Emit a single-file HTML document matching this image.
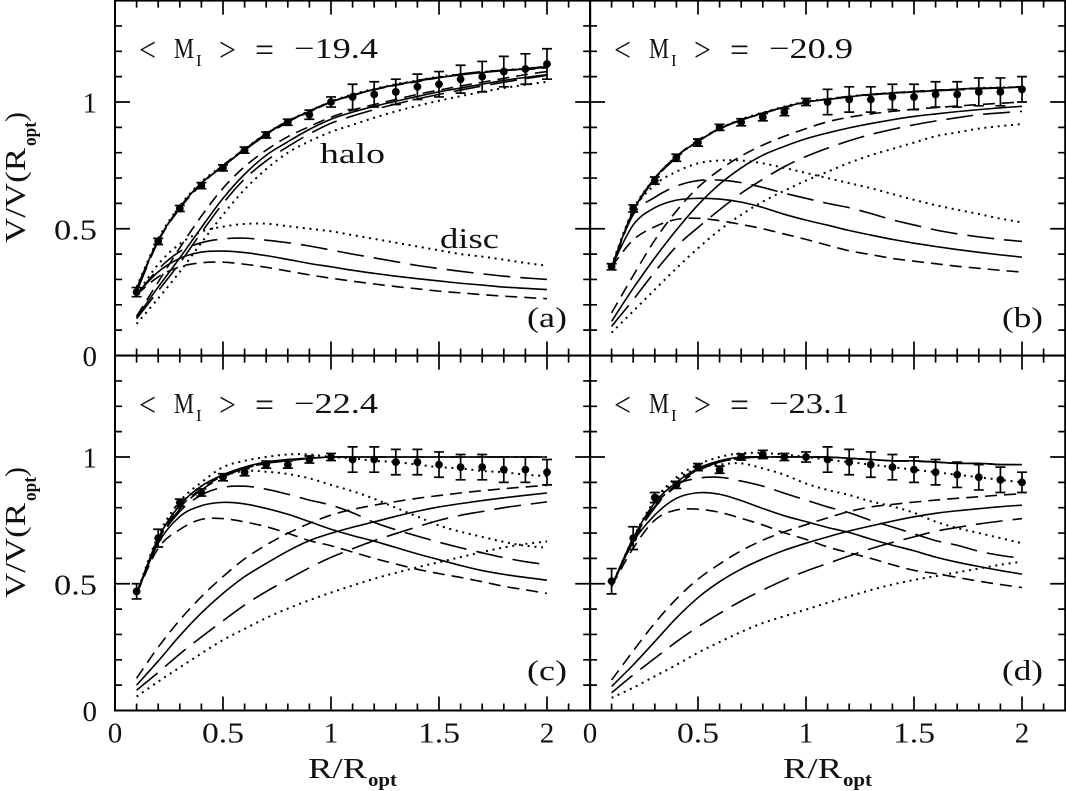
<!DOCTYPE html>
<html lang="en">
<head>
<meta charset="utf-8">
<title>Rotation curves</title>
<style>
html,body{margin:0;padding:0;background:#fff;width:1066px;height:791px;overflow:hidden}
svg{display:block}
text{font-family:"Liberation Serif",serif;fill:#111}
.t{font-size:29px}
.op{font-size:34px}
.s{font-size:19px;font-weight:bold}
.sub{font-size:17px}
</style>
</head>
<body>
<svg id="chart" width="1066" height="791" viewBox="0 0 1066 791" xmlns="http://www.w3.org/2000/svg">
<rect width="1066" height="791" fill="#fff"/>
<g id="plots"></g>

<g>
<text class="op" x="139" y="61" textLength="17" lengthAdjust="spacingAndGlyphs">&lt;</text>
<text class="t" x="174" y="58" textLength="20" lengthAdjust="spacingAndGlyphs">M</text>
<text class="sub" x="196" y="66">I</text>
<text class="op" x="219" y="61" textLength="17" lengthAdjust="spacingAndGlyphs">&gt;</text>
<text class="op" x="255" y="61" textLength="19" lengthAdjust="spacingAndGlyphs">=</text>
<text class="t" x="294" y="58" textLength="84" lengthAdjust="spacingAndGlyphs">−19.4</text>
<text class="t" x="320" y="163" textLength="65" lengthAdjust="spacingAndGlyphs">halo</text>
<text class="t" x="440" y="248" textLength="59" lengthAdjust="spacingAndGlyphs">disc</text>
<text class="t" x="527" y="327" textLength="40" lengthAdjust="spacingAndGlyphs">(a)</text>
</g>

<g>
<text class="op" x="614" y="61" textLength="17" lengthAdjust="spacingAndGlyphs">&lt;</text>
<text class="t" x="649" y="58" textLength="20" lengthAdjust="spacingAndGlyphs">M</text>
<text class="sub" x="671" y="66">I</text>
<text class="op" x="694" y="61" textLength="17" lengthAdjust="spacingAndGlyphs">&gt;</text>
<text class="op" x="730" y="61" textLength="19" lengthAdjust="spacingAndGlyphs">=</text>
<text class="t" x="769" y="58" textLength="84" lengthAdjust="spacingAndGlyphs">−20.9</text>
<text class="t" x="1002" y="327" textLength="41" lengthAdjust="spacingAndGlyphs">(b)</text>
</g>

<g>
<text class="op" x="139" y="416" textLength="17" lengthAdjust="spacingAndGlyphs">&lt;</text>
<text class="t" x="174" y="413" textLength="20" lengthAdjust="spacingAndGlyphs">M</text>
<text class="sub" x="196" y="421">I</text>
<text class="op" x="219" y="416" textLength="17" lengthAdjust="spacingAndGlyphs">&gt;</text>
<text class="op" x="255" y="416" textLength="19" lengthAdjust="spacingAndGlyphs">=</text>
<text class="t" x="294" y="413" textLength="84" lengthAdjust="spacingAndGlyphs">−22.4</text>
<text class="t" x="527" y="680" textLength="40" lengthAdjust="spacingAndGlyphs">(c)</text>
</g>

<g>
<text class="op" x="614" y="416" textLength="17" lengthAdjust="spacingAndGlyphs">&lt;</text>
<text class="t" x="649" y="413" textLength="20" lengthAdjust="spacingAndGlyphs">M</text>
<text class="sub" x="671" y="421">I</text>
<text class="op" x="694" y="416" textLength="17" lengthAdjust="spacingAndGlyphs">&gt;</text>
<text class="op" x="730" y="416" textLength="19" lengthAdjust="spacingAndGlyphs">=</text>
<text class="t" x="769" y="413" textLength="80" lengthAdjust="spacingAndGlyphs">−23.1</text>
<text class="t" x="1002" y="680" textLength="41" lengthAdjust="spacingAndGlyphs">(d)</text>
</g>

<g>
<text class="t" x="308" y="778" textLength="59" lengthAdjust="spacingAndGlyphs">R/R</text>
<text class="s" x="368" y="786" textLength="29" lengthAdjust="spacingAndGlyphs">opt</text>
</g>
<g>
<text class="t" x="783" y="778" textLength="59" lengthAdjust="spacingAndGlyphs">R/R</text>
<text class="s" x="843" y="786" textLength="29" lengthAdjust="spacingAndGlyphs">opt</text>
</g>
<g>
<text class="t" transform="translate(25 243) rotate(-90)" textLength="95" lengthAdjust="spacingAndGlyphs">V/V(R</text>
<text class="s" transform="translate(36 146) rotate(-90)" textLength="24" lengthAdjust="spacingAndGlyphs">opt</text>
<text class="t" transform="translate(25 122) rotate(-90)" textLength="10" lengthAdjust="spacingAndGlyphs">)</text>
</g>
<g>
<text class="t" transform="translate(25 598) rotate(-90)" textLength="95" lengthAdjust="spacingAndGlyphs">V/V(R</text>
<text class="s" transform="translate(36 501) rotate(-90)" textLength="24" lengthAdjust="spacingAndGlyphs">opt</text>
<text class="t" transform="translate(25 477) rotate(-90)" textLength="10" lengthAdjust="spacingAndGlyphs">)</text>
</g>
</svg>

<script>
const radii=[0.1,0.2,0.3,0.4,0.5,0.6,0.7,0.8,0.9,1.0,1.1,1.2,1.3,1.4,1.5,1.6,1.7,1.8,1.9,2.0];
const xTickValues=[0,0.5,1,1.5,2];
const xTickLabels=["0","0.5","1","1.5","2"];
const yTickValues=[0,0.5,1];
const yTickLabels=["0","0.5","1"];

// panel (a)
const pointsA=[.25,.45,.58,.67,.74,.81,.87,.92,.95,1.0,1.02,1.03,1.04,1.06,1.07,1.09,1.10,1.12,1.13,1.15];
const errorsA=[.018,.012,.012,.012,.012,.012,.012,.012,.018,.02,.05,.05,.05,.05,.05,.055,.06,.06,.06,.06];
const totalSolidA=[.265,.455,.585,.68,.745,.813,.875,.925,.963,1.0,1.026,1.05,1.067,1.083,1.096,1.107,1.116,1.124,1.13,1.137];
const totalShortA=[.26,.45,.58,.675,.75,.815,.872,.925,.96,1.0,1.028,1.048,1.066,1.08,1.096,1.108,1.118,1.125,1.128,1.135];
const totalLongA=[.25,.45,.585,.68,.75,.81,.87,.92,.965,1.0,1.025,1.05,1.068,1.085,1.098,1.11,1.12,1.125,1.132,1.14];
const totalDotA=[.27,.46,.59,.685,.75,.815,.875,.925,.965,1.002,1.03,1.052,1.07,1.085,1.1,1.11,1.118,1.126,1.132,1.14];
const haloSolidA=[.15,.27,.385,.505,.62,.715,.79,.843,.892,.932,.96,.983,1.003,1.022,1.04,1.055,1.07,1.085,1.097,1.108];
const haloShortA=[.155,.29,.425,.55,.66,.745,.81,.863,.903,.94,.968,.99,1.01,1.03,1.047,1.063,1.078,1.093,1.108,1.12];
const haloLongA=[.145,.255,.365,.485,.60,.696,.768,.824,.874,.916,.945,.97,.992,1.012,1.03,1.047,1.063,1.078,1.092,1.105];
const haloDotA=[.125,.225,.33,.445,.555,.655,.735,.80,.845,.882,.91,.938,.963,.985,1.005,1.023,1.04,1.055,1.068,1.08];
const discSolidA=[.24,.33,.383,.408,.412,.406,.394,.379,.363,.35,.336,.324,.313,.303,.294,.285,.278,.27,.265,.26];
const discShortA=[.24,.31,.35,.366,.368,.36,.348,.333,.318,.305,.293,.282,.272,.263,.254,.247,.24,.234,.229,.224];
const discLongA=[.24,.34,.41,.445,.46,.463,.455,.445,.432,.416,.40,.385,.37,.355,.343,.332,.322,.313,.306,.30];
const discDotA=[.24,.36,.44,.488,.508,.519,.52,.51,.50,.49,.475,.46,.445,.43,.415,.40,.39,.378,.365,.354];

// panel (b)
const pointsB=[.35,.58,.69,.78,.84,.90,.92,.94,.96,1.0,1.0,1.01,1.01,1.02,1.02,1.03,1.03,1.04,1.04,1.05];
const errorsB=[.012,.014,.014,.014,.014,.012,.014,.014,.014,.014,.05,.05,.05,.05,.05,.05,.05,.055,.055,.05];
const totalSolidB=[.35,.57,.70,.785,.845,.895,.93,.955,.98,1.0,1.01,1.02,1.03,1.035,1.04,1.045,1.05,1.055,1.055,1.06];
const totalShortB=[.345,.57,.695,.785,.85,.895,.928,.955,.978,.998,1.012,1.022,1.03,1.036,1.042,1.047,1.05,1.053,1.057,1.058];
const totalLongB=[.34,.565,.695,.78,.845,.893,.93,.957,.98,1.0,1.01,1.02,1.028,1.034,1.04,1.044,1.048,1.052,1.056,1.06];
const totalDotB=[.355,.575,.70,.785,.845,.895,.932,.958,.982,1.002,1.012,1.022,1.03,1.036,1.04,1.045,1.05,1.055,1.057,1.06];
const haloSolidB=[.135,.265,.385,.495,.594,.676,.74,.79,.825,.855,.878,.898,.915,.93,.943,.953,.962,.97,.977,.983];
const haloShortB=[.168,.315,.455,.57,.663,.732,.787,.83,.865,.895,.922,.94,.953,.963,.971,.978,.984,.99,.995,1.0];
const haloLongB=[.115,.22,.33,.43,.505,.575,.64,.695,.745,.785,.818,.847,.872,.892,.91,.925,.938,.95,.957,.963];
const haloDotB=[.09,.175,.26,.344,.423,.495,.555,.607,.65,.69,.725,.76,.79,.815,.84,.865,.88,.895,.905,.913];
const discSolidB=[.35,.515,.583,.613,.62,.617,.605,.584,.557,.534,.514,.493,.475,.458,.443,.43,.418,.407,.397,.388];
const discShortB=[.35,.456,.508,.537,.541,.532,.517,.50,.479,.458,.435,.413,.398,.383,.372,.362,.352,.344,.336,.329];
const discLongB=[.35,.555,.624,.668,.69,.692,.682,.663,.64,.62,.60,.583,.56,.535,.515,.495,.48,.468,.458,.45];
const discDotB=[.35,.57,.673,.725,.758,.769,.769,.758,.74,.72,.70,.68,.66,.637,.614,.593,.575,.558,.54,.525];

// panel (c)
const pointsC=[.47,.68,.82,.86,.92,.94,.97,.97,.99,1.0,.99,.99,.98,.98,.97,.96,.96,.95,.95,.94];
const errorsC=[.03,.035,.014,.014,.014,.014,.014,.014,.014,.014,.05,.05,.05,.05,.05,.05,.05,.05,.05,.05];
const totalSolidC=[.46,.68,.81,.885,.93,.96,.98,.99,.995,1.0,1.0,1.0,1.0,1.0,1.0,1.0,1.0,1.0,1.0,1.0];
const totalShortC=[.46,.67,.80,.875,.925,.955,.975,.99,.995,1.0,1.0,1.0,1.0,1.0,1.0,1.0,1.0,1.0,1.0,1.0];
const totalLongC=[.46,.665,.795,.87,.92,.955,.975,.985,.995,1.0,1.0,1.0,1.0,1.0,1.0,1.0,1.0,1.0,1.0,1.0];
const totalDotC=[.46,.69,.825,.90,.96,.985,1.0,1.01,1.01,1.0,.995,.985,.98,.97,.96,.955,.945,.94,.93,.925];
const haloSolidC=[.10,.195,.295,.385,.462,.528,.58,.629,.67,.699,.723,.744,.766,.786,.803,.816,.828,.839,.849,.858];
const haloShortC=[.127,.25,.357,.449,.528,.598,.653,.699,.738,.771,.793,.81,.824,.837,.848,.858,.867,.875,.882,.888];
const haloLongC=[.08,.15,.223,.29,.354,.416,.469,.517,.563,.604,.638,.67,.698,.725,.75,.77,.785,.80,.812,.823];
const haloDotC=[.055,.114,.17,.225,.278,.322,.365,.402,.435,.465,.493,.52,.543,.565,.585,.605,.625,.643,.657,.667];
const discSolidC=[.46,.66,.765,.808,.821,.815,.797,.774,.745,.715,.69,.668,.643,.618,.595,.572,.552,.537,.525,.514];
const discShortC=[.46,.64,.714,.754,.757,.744,.725,.699,.67,.65,.625,.60,.578,.557,.54,.525,.508,.49,.476,.462];
const discLongC=[.46,.665,.785,.85,.88,.885,.873,.853,.83,.81,.78,.742,.713,.688,.664,.642,.622,.603,.587,.575];
const discDotC=[.46,.68,.81,.885,.925,.945,.942,.933,.916,.89,.865,.835,.80,.765,.73,.705,.685,.665,.65,.642];

// panel (d)
const pointsD=[.51,.68,.84,.89,.96,.95,1.0,1.01,1.0,1.0,.99,.98,.97,.96,.95,.94,.93,.92,.91,.90];
const errorsD=[.05,.045,.02,.014,.014,.014,.012,.016,.014,.02,.05,.05,.05,.05,.05,.05,.05,.05,.05,.04];
const totalSolidD=[.49,.68,.82,.90,.955,.985,1.0,1.0,1.0,1.0,1.0,.995,.99,.985,.985,.98,.975,.975,.97,.97];
const totalShortD=[.49,.67,.81,.89,.95,.98,.995,1.0,1.0,1.0,1.0,.995,.99,.985,.985,.98,.975,.975,.97,.97];
const totalLongD=[.49,.665,.805,.885,.945,.98,.995,1.0,1.0,1.0,.998,.995,.99,.985,.983,.98,.976,.974,.97,.97];
const totalDotD=[.49,.68,.83,.92,.97,1.0,1.015,1.015,1.01,1.0,.99,.98,.97,.96,.95,.94,.93,.92,.91,.90];
const haloSolidD=[.095,.18,.272,.365,.445,.508,.558,.598,.632,.66,.685,.708,.728,.747,.764,.778,.788,.796,.804,.81];
const haloShortD=[.12,.235,.345,.44,.518,.578,.63,.672,.705,.733,.76,.785,.803,.813,.822,.83,.837,.843,.85,.855];
const haloLongD=[.07,.14,.206,.271,.33,.383,.432,.475,.515,.55,.58,.61,.638,.663,.685,.707,.722,.736,.747,.757];
const haloDotD=[.05,.09,.135,.18,.228,.27,.31,.345,.372,.398,.425,.45,.475,.497,.515,.53,.545,.56,.575,.587];
const discSolidD=[.49,.665,.771,.837,.859,.853,.828,.797,.768,.745,.722,.702,.676,.652,.63,.605,.585,.568,.552,.538];
const discShortD=[.49,.64,.751,.791,.794,.782,.758,.732,.701,.675,.645,.622,.60,.575,.553,.54,.525,.51,.497,.485];
const discLongD=[.49,.67,.80,.89,.916,.92,.905,.885,.857,.83,.803,.78,.75,.724,.697,.67,.652,.628,.612,.60];
const discDotD=[.49,.68,.82,.91,.955,.97,.975,.955,.93,.895,.87,.85,.825,.805,.78,.745,.72,.70,.68,.66];

const SVGNS="http://www.w3.org/2000/svg";
const PX_PER_X=216, PX_PER_Y=253.5, X_MAX=2.2, Y_MAX=1.4;
const dashes={solid:"",short:"12 7",long:"27 10",dot:"2 4.7"};

function xScale(panel,v){return panel.left+v*PX_PER_X;}
function yScale(panel,v){return panel.bottom-v*PX_PER_Y;}

function make(tag,attrs,parent){
  const el=document.createElementNS(SVGNS,tag);
  for(const k in attrs){el.setAttribute(k,attrs[k]);}
  parent.appendChild(el);
  return el;
}
function smoothPath(panel,values){
  const p=values.map((v,i)=>[xScale(panel,radii[i]),yScale(panel,v)]);
  let d="M"+p[0][0].toFixed(2)+" "+p[0][1].toFixed(2);
  for(let i=0;i<p.length-1;i++){
    const a=p[Math.max(0,i-1)],b=p[i],c=p[i+1],e=p[Math.min(p.length-1,i+2)];
    const c1x=b[0]+(c[0]-a[0])/6,c1y=b[1]+(c[1]-a[1])/6;
    const c2x=c[0]-(e[0]-b[0])/6,c2y=c[1]-(e[1]-b[1])/6;
    d+="C"+c1x.toFixed(2)+" "+c1y.toFixed(2)+" "+c2x.toFixed(2)+" "+c2y.toFixed(2)+" "+c[0].toFixed(2)+" "+c[1].toFixed(2);
  }
  return d;
}
function drawCurve(panel,group,values,style,label){
  const path=make("path",{d:smoothPath(panel,values),fill:"none",stroke:"#000","stroke-width":style==="dot"?2:1.6},group);
  
  
  if(dashes[style]){path.setAttribute("stroke-dasharray",dashes[style]);}
}
function drawAxes(panel,group){
  const ax=make("g",{},group);
  
  
  const right=panel.left+X_MAX*PX_PER_X, top=panel.bottom-Y_MAX*PX_PER_Y;
  const frame=make("rect",{x:panel.left,y:top,width:right-panel.left,height:panel.bottom-top,fill:"none",stroke:"#000","stroke-width":2},ax);
  
  
  let d="";
  for(let i=1;i<=21;i++){
    const v=i/10, len=(i%5===0)?14:7, x=xScale(panel,v);
    d+="M"+x+" "+panel.bottom+"v"+(-len)+"M"+x+" "+top+"v"+len;
  }
  for(let i=1;i<=13;i++){
    const v=i/10, len=(i%5===0)?15:7, y=yScale(panel,v);
    d+="M"+panel.left+" "+y+"h"+len+"M"+right+" "+y+"h"+(-len);
  }
  const ticks=make("path",{d:d,stroke:"#000","stroke-width":1.7,fill:"none"},ax);
  
  
  if(panel.showX){
    xTickValues.forEach((v,i)=>{
      const t=make("text",{x:xScale(panel,v),y:742.5,"text-anchor":"middle",class:"t"},ax);
      
      
      t.textContent=xTickLabels[i];
      if(xTickLabels[i].length===3){t.setAttribute("textLength","42");t.setAttribute("lengthAdjust","spacingAndGlyphs");}
    });
  }
  if(panel.showY){
    yTickValues.forEach((v,i)=>{
      const t=make("text",{x:97,y:yScale(panel,v)+10.5,"text-anchor":"end",class:"t"},ax);
      
      
      t.textContent=yTickLabels[i];
      if(yTickLabels[i].length===3){t.setAttribute("textLength","43");t.setAttribute("lengthAdjust","spacingAndGlyphs");}
    });
  }
}
function drawPoints(panel,group,values,errors){
  const gp=make("g",{},group);
  
  
  values.forEach((v,i)=>{
    const x=xScale(panel,radii[i]), hi=yScale(panel,v+errors[i]), lo=yScale(panel,v-errors[i]);
    const bar=make("path",{d:"M"+x+" "+hi+"V"+lo+"M"+(x-5)+" "+hi+"h10M"+(x-5)+" "+lo+"h10",stroke:"#000","stroke-width":1.7,fill:"none"},gp);
    
    
    const dot=make("circle",{cx:x,cy:yScale(panel,v),r:3.9,fill:"#000"},gp);
    
    
  });
}

const panels=[
 {id:"a",left:115,bottom:355.5,showX:false,showY:true,points:pointsA,errors:errorsA,
  curves:[[haloDotA,"dot","halo-dotted"],[haloLongA,"long","halo-long-dash"],[haloSolidA,"solid","halo-solid"],[haloShortA,"short","halo-short-dash"],
          [discDotA,"dot","disc-dotted"],[discLongA,"long","disc-long-dash"],[discSolidA,"solid","disc-solid"],[discShortA,"short","disc-short-dash"],
          [totalDotA,"dot","total-dotted"],[totalLongA,"long","total-long-dash"],[totalShortA,"short","total-short-dash"],[totalSolidA,"solid","total-solid"]]},
 {id:"b",left:590,bottom:355.5,showX:false,showY:false,points:pointsB,errors:errorsB,
  curves:[[haloDotB,"dot","halo-dotted"],[haloLongB,"long","halo-long-dash"],[haloSolidB,"solid","halo-solid"],[haloShortB,"short","halo-short-dash"],
          [discDotB,"dot","disc-dotted"],[discLongB,"long","disc-long-dash"],[discSolidB,"solid","disc-solid"],[discShortB,"short","disc-short-dash"],
          [totalDotB,"dot","total-dotted"],[totalLongB,"long","total-long-dash"],[totalShortB,"short","total-short-dash"],[totalSolidB,"solid","total-solid"]]},
 {id:"c",left:115,bottom:710.5,showX:true,showY:true,points:pointsC,errors:errorsC,
  curves:[[haloDotC,"dot","halo-dotted"],[haloLongC,"long","halo-long-dash"],[haloSolidC,"solid","halo-solid"],[haloShortC,"short","halo-short-dash"],
          [discDotC,"dot","disc-dotted"],[discLongC,"long","disc-long-dash"],[discSolidC,"solid","disc-solid"],[discShortC,"short","disc-short-dash"],
          [totalDotC,"dot","total-dotted"],[totalLongC,"long","total-long-dash"],[totalShortC,"short","total-short-dash"],[totalSolidC,"solid","total-solid"]]},
 {id:"d",left:590,bottom:710.5,showX:true,showY:false,points:pointsD,errors:errorsD,
  curves:[[haloDotD,"dot","halo-dotted"],[haloLongD,"long","halo-long-dash"],[haloSolidD,"solid","halo-solid"],[haloShortD,"short","halo-short-dash"],
          [discDotD,"dot","disc-dotted"],[discLongD,"long","disc-long-dash"],[discSolidD,"solid","disc-solid"],[discShortD,"short","disc-short-dash"],
          [totalDotD,"dot","total-dotted"],[totalLongD,"long","total-long-dash"],[totalShortD,"short","total-short-dash"],[totalSolidD,"solid","total-solid"]]}
];

const root=document.getElementById("plots");
panels.forEach(panel=>{
  const g=make("g",{},root);
  
  
  drawAxes(panel,g);
  panel.curves.forEach(c=>drawCurve(panel,g,c[0],c[1],c[2]));
  drawPoints(panel,g,panel.points,panel.errors);
});
</script>
</body>
</html>
